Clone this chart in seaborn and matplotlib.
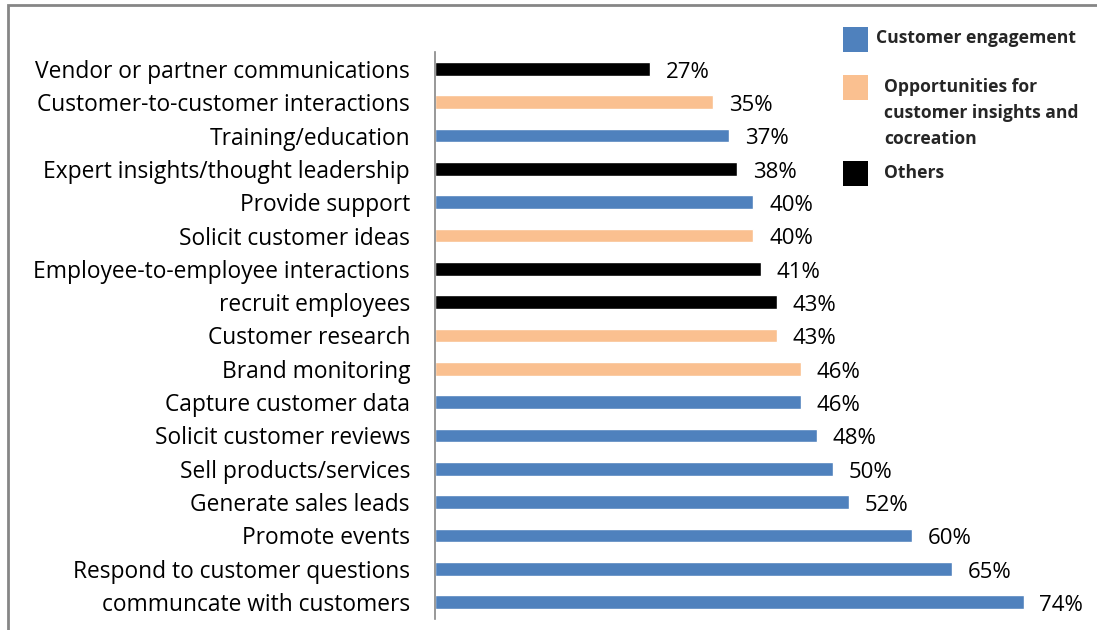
import matplotlib
matplotlib.use("Agg")
import matplotlib.pyplot as plt
from matplotlib.patches import Rectangle
import pandas as pd
import seaborn as sns

# Uses of social media, top to bottom
categories = [
    "Vendor or partner communications",
    "Customer-to-customer interactions",
    "Training/education",
    "Expert insights/thought leadership",
    "Provide support",
    "Solicit customer ideas",
    "Employee-to-employee interactions",
    "recruit employees",
    "Customer research",
    "Brand monitoring",
    "Capture customer data",
    "Solicit customer reviews",
    "Sell products/services",
    "Generate sales leads",
    "Promote events",
    "Respond to customer questions",
    "communcate with customers",
]
values = [27, 35, 37, 38, 40, 40, 41, 43, 43, 46, 46, 48, 50, 52, 60, 65, 74]

CE = "Customer engagement"
OPP = "Opportunities for\ncustomer insights and\ncocreation"
OTH = "Others"
groups = [OTH, OPP, CE, OTH, CE, OPP, OTH, OTH, OPP, OPP,
          CE, CE, CE, CE, CE, CE, CE]
group_order = [CE, OPP, OTH]
colors = {CE: "#4F81BD", OPP: "#FAC090", OTH: "#000000"}

df = pd.DataFrame({"category": categories, "value": values, "group": groups})

sns.set_theme(style="white")
plt.rcParams["font.family"] = ["Open Sans", "DejaVu Sans"]

fig = plt.figure(figsize=(10.97, 6.30), dpi=100)
ax = fig.add_axes([435 / 1097, 1 - 618.7 / 630, 0.58, (618.7 - 52.3) / 630])

sns.barplot(data=df, y="category", x="value", hue="group", hue_order=group_order,
            palette=colors, dodge=False, width=0.41, orient="h",
            legend=False, saturation=1, ax=ax)

ax.set_xlim(0, 80)
ax.set_ylim(len(categories) - 0.5, -0.5)
ax.set_xlabel("")
ax.set_ylabel("")
ax.set_xticks([])
for s in ["top", "right", "bottom"]:
    ax.spines[s].set_visible(False)
ax.spines["left"].set_color("#868686")
ax.spines["left"].set_linewidth(1.2)
ax.tick_params(axis="y", length=0, pad=18, labelsize=16.4, labelcolor="#000000")

for i, v in enumerate(values):
    ax.text(v + 2.0, i + 0.1, f"{v}%", va="center", ha="left",
            fontsize=16, color="#000000")

# Legend drawn as swatches with bold labels
sw = 25
legend_items = [
    (CE, 27, 876, 38),
    (OPP, 75, 884, 113),
    (OTH, 161, 884, 173),
]
for g, top_px, x_px, text_px in legend_items:
    fig.add_artist(Rectangle((843 / 1097, 1 - (top_px + sw) / 630), sw / 1097, sw / 630,
                             transform=fig.transFigure, color=colors[g], lw=0))
    fig.text(x_px / 1097, 1 - text_px / 630, g, fontsize=12.6, fontweight="bold",
             va="center", ha="left", linespacing=1.55,
             transform=fig.transFigure)

# Outer frame
fig.add_artist(Rectangle((8 / 1097, -0.1), 1.2, 1 - 5 / 630 + 0.1,
                         transform=fig.transFigure, fill=False,
                         edgecolor="#868686", lw=2))

fig.savefig("out.png", dpi=100)
